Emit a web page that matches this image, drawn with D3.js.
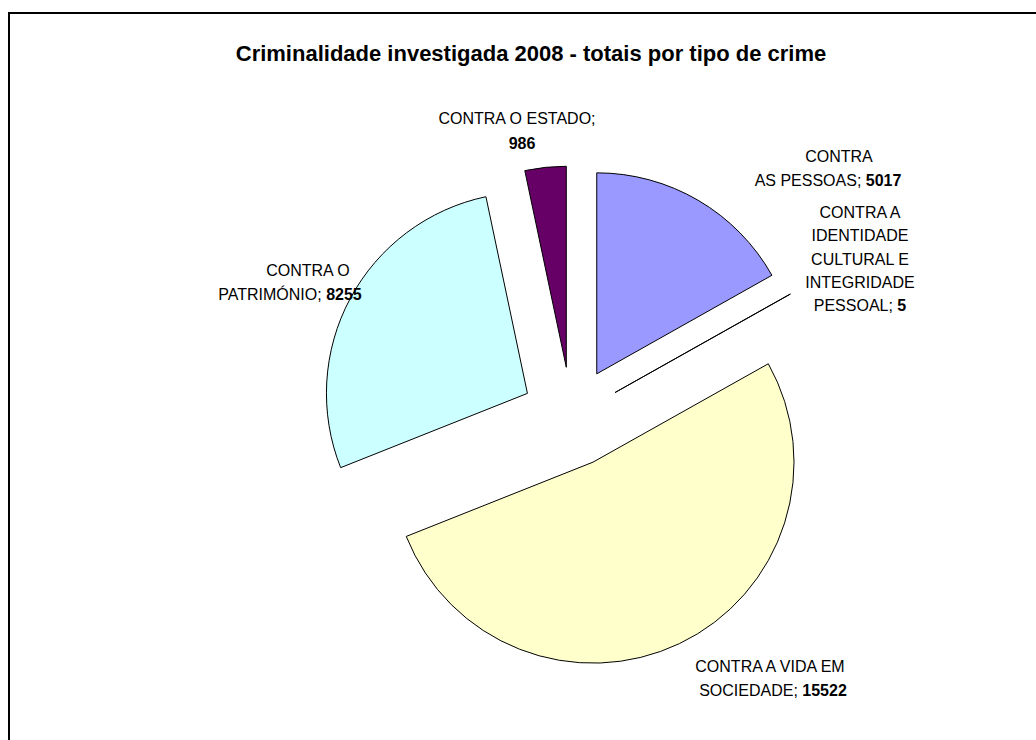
<!DOCTYPE html>
<html><head><meta charset="utf-8">
<script src="https://cdn.jsdelivr.net/npm/d3@7"></script>
<style>body{margin:0;background:#fff}svg{display:block}</style>
</head><body>
<svg id="c" width="1036" height="740"></svg>
<script>
const title = "Criminalidade investigada 2008 - totais por tipo de crime";
const categories = ["CONTRA AS PESSOAS", "CONTRA A IDENTIDADE CULTURAL E INTEGRIDADE PESSOAL", "CONTRA A VIDA EM SOCIEDADE", "CONTRA O PATRIMÓNIO", "CONTRA O ESTADO"];
const values = [5017, 5, 15522, 8255, 986];
const colors = ["#9999FF", "#993366", "#FFFFCC", "#CCFFFF", "#660066"];
// label text lines: [text, boldValue]
const labelLines = [
  [["CONTRA", ""], ["AS PESSOAS; ", "5017"]],
  [["CONTRA A", ""], ["IDENTIDADE", ""], ["CULTURAL E", ""], ["INTEGRIDADE", ""], ["PESSOAL; ", "5"]],
  [["CONTRA A VIDA EM", ""], ["SOCIEDADE; ", "15522"]],
  [["CONTRA O", ""], ["PATRIMÓNIO; ", "8255"]],
  [["CONTRA O ESTADO;", ""], ["", "986"]]
];
// label layout: per-line centre x, first baseline y, line height
const labelX = [[839, 828], [860, 860, 860, 860, 860], [770, 773], [308, 290], [517, 522]];
const labelY = [162, 218, 672, 276, 124];
const lineH = [24, 23.3, 24, 24, 25];

const svg = d3.select("#c");
svg.append("rect").attr("x", 9).attr("y", 13).attr("width", 1100).attr("height", 800)
  .attr("fill", "#fff").attr("stroke", "#000").attr("stroke-width", 2);

svg.append("text").attr("x", 531).attr("y", 61).attr("text-anchor", "middle")
  .attr("font-family", "Liberation Sans, Arial, sans-serif").attr("font-weight", "bold")
  .attr("font-size", 22).text(title);

const cx = 571.5, cy = 417, r = 201, explode = 50;
const pie = d3.pie().sort(null).value(d => d)(values);
const arc = d3.arc().innerRadius(0).outerRadius(r);
const g = svg.append("g").attr("transform", `translate(${cx},${cy})`);
g.selectAll("path").data(pie).join("path")
  .attr("d", arc)
  .attr("transform", d => {
    const a = (d.startAngle + d.endAngle) / 2;
    return `translate(${explode * Math.sin(a)},${-explode * Math.cos(a)})`;
  })
  .attr("fill", (d, i) => colors[i])
  .attr("stroke", "#000").attr("stroke-width", 1).attr("stroke-linejoin", "miter");

labelLines.forEach((lines, i) => {
  lines.forEach((ln, j) => {
    const t = svg.append("text").attr("text-anchor", "middle")
      .attr("font-family", "Liberation Sans, Arial, sans-serif").attr("font-size", 16).attr("fill", "#000")
      .attr("x", labelX[i][j]).attr("y", labelY[i] + j * lineH[i]);
    if (ln[0]) t.append("tspan").text(ln[0]);
    if (ln[1]) t.append("tspan").attr("font-weight", "bold").text(ln[1]);
  });
});
</script>
</body></html>
